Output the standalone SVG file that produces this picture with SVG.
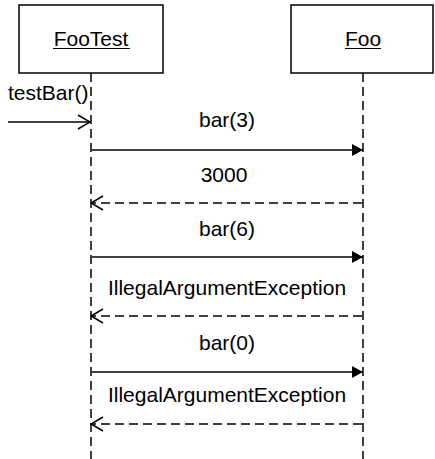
<svg xmlns="http://www.w3.org/2000/svg" width="435" height="459" viewBox="0 0 435 459">
<style>
text{font-family:"Liberation Sans",Arial,sans-serif;font-size:21px;fill:#000}
.box{fill:#fff;stroke:#000;stroke-width:1.5}
.life{stroke:#000;stroke-width:1.5;stroke-dasharray:9 5;fill:none}
.call{stroke:#000;stroke-width:1.5;fill:none}
.ret{stroke:#000;stroke-width:1.5;stroke-dasharray:9 5;fill:none}
.ul{stroke:#000;stroke-width:1.2}
</style>
<defs>
<marker id="filled" markerWidth="12" markerHeight="12" refX="11" refY="6" orient="auto" markerUnits="userSpaceOnUse">
<path d="M0,0 L11,6 L0,12 Z" fill="#000"/>
</marker>
<marker id="open" markerWidth="14" markerHeight="16" refX="13" refY="8" orient="auto" markerUnits="userSpaceOnUse">
<path d="M1,1 L13,8 L1,15" fill="none" stroke="#000" stroke-width="1.5"/>
</marker>
</defs>
<rect width="435" height="459" fill="#fff"/>
<g id="FooTest">
<rect class="box" x="19" y="5" width="144" height="68"/>
<text x="91" y="46" text-anchor="middle">FooTest</text>
<line class="ul" x1="53" y1="48.5" x2="130" y2="48.5"/>
</g>
<g id="Foo">
<rect class="box" x="291" y="5" width="142" height="68"/>
<text x="363" y="46" text-anchor="middle">Foo</text>
<line class="ul" x1="345" y1="48.5" x2="381" y2="48.5"/>
</g>
<g id="connectors">
<line class="life" x1="91" y1="73" x2="91" y2="459"/>
<line class="life" x1="363" y1="73" x2="363" y2="459"/>
<line class="call" x1="8" y1="122" x2="90" y2="122" marker-end="url(#open)"/>
<line class="call" x1="92" y1="150" x2="363" y2="150" marker-end="url(#filled)"/>
<line class="ret" x1="362" y1="203" x2="91" y2="203" marker-end="url(#open)"/>
<line class="call" x1="92" y1="257" x2="363" y2="257" marker-end="url(#filled)"/>
<line class="ret" x1="362" y1="316" x2="91" y2="316" marker-end="url(#open)"/>
<line class="call" x1="92" y1="372" x2="363" y2="372" marker-end="url(#filled)"/>
<line class="ret" x1="362" y1="424" x2="91" y2="424" marker-end="url(#open)"/>
</g>
<g id="labels">
<text x="8" y="100">testBar()</text>
<text x="227" y="127" text-anchor="middle">bar(3)</text>
<text x="224" y="182" text-anchor="middle">3000</text>
<text x="227" y="236" text-anchor="middle">bar(6)</text>
<text x="227" y="295" text-anchor="middle">IllegalArgumentException</text>
<text x="227" y="350" text-anchor="middle">bar(0)</text>
<text x="227" y="402" text-anchor="middle">IllegalArgumentException</text>
</g>
</svg>
